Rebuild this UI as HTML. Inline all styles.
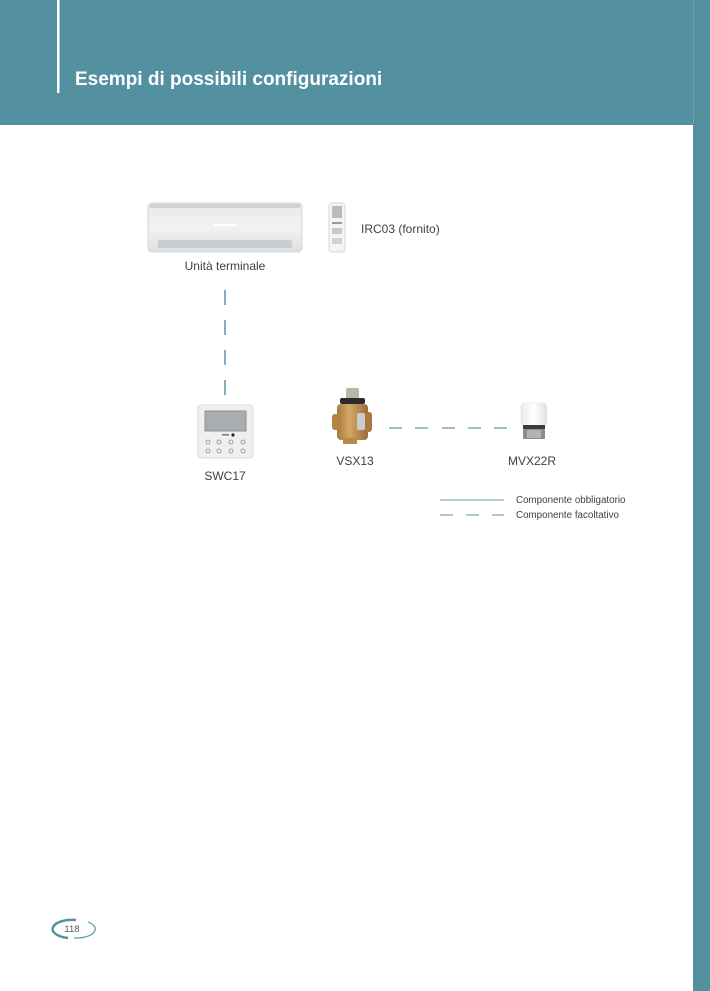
<!DOCTYPE html>
<html>
<head>
<meta charset="utf-8">
<style>
  html,body{margin:0;padding:0;background:#fff;}
  body{width:710px;height:991px;overflow:hidden;}
  svg{display:block;}
  text{font-family:"Liberation Sans", sans-serif;}
</style>
</head>
<body>
<svg width="710" height="991" viewBox="0 0 710 991" xmlns="http://www.w3.org/2000/svg">
  <defs>
    <linearGradient id="acg" x1="0" y1="0" x2="0" y2="1">
      <stop offset="0" stop-color="#e6e8ea"/>
      <stop offset="0.5" stop-color="#f1f2f3"/>
      <stop offset="1" stop-color="#dcdfe1"/>
    </linearGradient>
    <linearGradient id="brass" x1="0" y1="0" x2="1" y2="0">
      <stop offset="0" stop-color="#a9783e"/>
      <stop offset="0.4" stop-color="#d3a866"/>
      <stop offset="1" stop-color="#9a6a34"/>
    </linearGradient>
    <linearGradient id="cap" x1="0" y1="0" x2="1" y2="0">
      <stop offset="0" stop-color="#e8eaec"/>
      <stop offset="0.5" stop-color="#ffffff"/>
      <stop offset="1" stop-color="#dfe2e4"/>
    </linearGradient>
  </defs>

  <!-- header band -->
  <rect x="0" y="0" width="710" height="125" fill="#5491a0"/>
  <rect x="693" y="0" width="17" height="991" fill="#5491a0"/>
  <line x1="693.5" y1="0" x2="693.5" y2="125" stroke="#6aa0ad" stroke-width="1"/>
  <rect x="57" y="0" width="2.5" height="93" fill="#ffffff"/>
  <text x="75" y="85" font-size="19" font-weight="bold" fill="#ffffff">Esempi di possibili configurazioni</text>

  <!-- AC unit -->
  <rect x="148" y="203" width="154" height="49" rx="4" fill="url(#acg)" stroke="#d3d6d8" stroke-width="1"/>
  <rect x="150" y="204" width="150" height="4" fill="#cfd3d6"/>
  <rect x="158" y="240" width="134" height="8" rx="2" fill="#c9cdd0"/>
  <rect x="214" y="224" width="22" height="2" fill="#ffffff"/>
  <text x="225" y="270" font-size="12" fill="#3f3f3f" text-anchor="middle">Unità terminale</text>

  <!-- remote -->
  <rect x="329" y="203" width="16" height="49" rx="3" fill="#f4f4f4" stroke="#d8d8d8" stroke-width="1"/>
  <rect x="332" y="206" width="10" height="12" fill="#b8bcbd"/>
  <rect x="332" y="222" width="10" height="2" fill="#999"/>
  <rect x="332" y="228" width="10" height="6" fill="#c7c7c7"/>
  <rect x="332" y="238" width="10" height="6" fill="#d2d2d2"/>
  <text x="361" y="233" font-size="12" fill="#3f3f3f">IRC03 (fornito)</text>

  <!-- vertical dashed connector -->
  <g stroke="#7fb0bc" stroke-width="2">
    <line x1="225" y1="290" x2="225" y2="305"/>
    <line x1="225" y1="320" x2="225" y2="335"/>
    <line x1="225" y1="350" x2="225" y2="365"/>
    <line x1="225" y1="380" x2="225" y2="395"/>
  </g>

  <!-- SWC17 panel -->
  <rect x="198" y="405" width="55" height="53" rx="3" fill="#eeeff1" stroke="#d9dbdd" stroke-width="1"/>
  <rect x="205" y="411" width="41" height="20" fill="#a9adaf" stroke="#8e9294" stroke-width="1"/>
  <circle cx="233" cy="435" r="1.6" fill="#222"/>
  <rect x="222" y="434" width="7" height="1.5" fill="#777"/>
  <g fill="none" stroke="#8a8d8f" stroke-width="0.8">
    <circle cx="208" cy="442" r="2"/><circle cx="219" cy="442" r="2"/><circle cx="231" cy="442" r="2"/><circle cx="243" cy="442" r="2"/>
    <circle cx="208" cy="451" r="2"/><circle cx="219" cy="451" r="2"/><circle cx="231" cy="451" r="2"/><circle cx="243" cy="451" r="2"/>
  </g>
  <text x="225" y="480" font-size="12" fill="#3f3f3f" text-anchor="middle">SWC17</text>

  <!-- VSX13 valve -->
  <rect x="346" y="388" width="13" height="11" rx="2" fill="#bcb6a8"/>
  <rect x="340" y="398" width="25" height="6" rx="2" fill="#2b2b2b"/>
  <rect x="337" y="404" width="31" height="36" rx="4" fill="url(#brass)"/>
  <rect x="332" y="414" width="9" height="16" rx="3" fill="#b5843f"/>
  <rect x="362" y="412" width="10" height="20" rx="3" fill="#a9783e"/>
  <rect x="357" y="413" width="8" height="17" rx="2" fill="#c7ccd0"/>
  <rect x="343" y="438" width="14" height="6" fill="#b9894a"/>
  <text x="355" y="465" font-size="12" fill="#3f3f3f" text-anchor="middle">VSX13</text>

  <!-- horizontal dashed connector -->
  <g stroke="#7fb0bc" stroke-width="1.6">
    <line x1="389" y1="428" x2="402" y2="428"/>
    <line x1="415" y1="428" x2="428" y2="428"/>
    <line x1="442" y1="428" x2="455" y2="428"/>
    <line x1="468" y1="428" x2="481" y2="428"/>
    <line x1="494" y1="428" x2="507" y2="428"/>
  </g>

  <!-- MVX22R actuator -->
  <rect x="521" y="403" width="26" height="23" rx="4" fill="url(#cap)" stroke="#e0e2e4" stroke-width="0.6"/>
  <rect x="523" y="425" width="22" height="4" fill="#3b3b3b"/>
  <rect x="523" y="429" width="22" height="10" rx="1" fill="#8a8c8e"/>
  <rect x="527" y="430" width="14" height="8" fill="#b1b3b5"/>
  <text x="532" y="465" font-size="12" fill="#3f3f3f" text-anchor="middle">MVX22R</text>

  <!-- legend -->
  <line x1="440" y1="500" x2="504" y2="500" stroke="#7fb0bc" stroke-width="1.3"/>
  <g stroke="#7fb0bc" stroke-width="1.3">
    <line x1="440" y1="515" x2="453" y2="515"/>
    <line x1="466" y1="515" x2="479" y2="515"/>
    <line x1="492" y1="515" x2="504" y2="515"/>
  </g>
  <text x="516" y="503" font-size="9.8" fill="#3f3f3f">Componente obbligatorio</text>
  <text x="516" y="518" font-size="9.8" fill="#3f3f3f">Componente facoltativo</text>

  <!-- page number -->
  <path d="M76 920 A19 9 0 0 0 68 938" fill="none" stroke="#5491a0" stroke-width="2.4"/>
  <path d="M74 938 A19 9 0 0 0 88 922" fill="none" stroke="#5491a0" stroke-width="1.2"/>
  <text x="72" y="932" font-size="9.5" fill="#555" text-anchor="middle">118</text>
</svg>
</body>
</html>
